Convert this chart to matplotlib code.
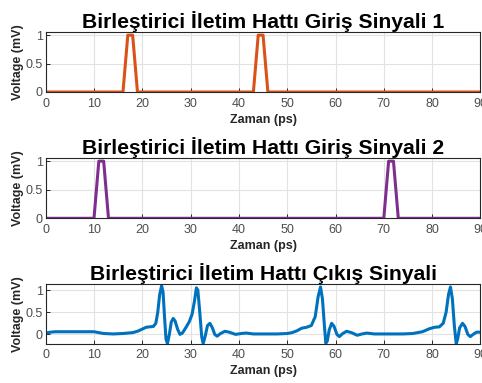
import matplotlib
matplotlib.use("Agg")
import matplotlib.pyplot as plt

plt.rcParams['font.family'] = ['Liberation Sans', 'DejaVu Sans']

# ---- data ----
in1_t = [0, 16, 17, 18, 19, 43, 44, 45, 46, 90]
in1_v = [0, 0, 1, 1, 0, 0, 1, 1, 0, 0]

in2_t = [0, 10, 11, 12, 13, 70, 71, 72, 73, 90]
in2_v = [0, 0, 1, 1, 0, 0, 1, 1, 0, 0]

out_t = [0, 1, 2, 5, 8, 10, 11, 12, 14, 16, 18, 19, 20, 20.8, 21.5, 22.3, 22.8, 23.2, 23.6,
         24.0, 24.3, 24.6, 24.9, 25.2, 25.6, 26.0, 26.4, 26.8, 27.3, 27.8, 28.3, 29.0, 29.7,
         30.3, 30.8, 31.2, 31.5, 31.9, 32.3, 32.6, 33.0, 33.5, 34.0, 34.5, 35.0, 35.5, 36.2,
         37.1, 38.0, 39.3, 40.5, 41.5, 43, 45, 48, 50, 51, 52, 53, 54, 55, 55.8, 56.4, 56.9,
         57.3, 57.7, 58.0, 58.3, 58.7, 59.2, 59.7, 60.3, 60.8, 61.5, 62.3, 63.3, 64.5, 65.5,
         66.5, 68, 70, 74, 76, 78, 79.5, 80.5, 81.5, 82.3, 82.9, 83.4, 83.8, 84.2, 84.6, 85.0,
         85.3, 85.7, 86.3, 86.8, 87.4, 87.9, 88.5, 89.2, 90]
out_v = [0.03, 0.05, 0.06, 0.06, 0.06, 0.06, 0.04, 0.02, 0.01, 0.02, 0.04, 0.07, 0.12, 0.16,
         0.17, 0.18, 0.25, 0.5, 0.9, 1.1, 0.95, 0.4, -0.1, -0.21, 0.0, 0.28, 0.36, 0.3, 0.12,
         0.0, 0.03, 0.15, 0.28, 0.45, 0.75, 1.05, 1.0, 0.5, -0.05, -0.21, -0.05, 0.2, 0.25,
         0.15, 0.0, -0.04, 0.02, 0.07, 0.05, 0.0, 0.02, 0.03, 0.01, 0.01, 0.01, 0.02, 0.04,
         0.08, 0.14, 0.16, 0.2, 0.4, 0.85, 1.07, 0.8, 0.2, -0.2, -0.15, 0.1, 0.25, 0.18, 0.0,
         -0.05, 0.02, 0.07, 0.04, -0.02, 0.01, 0.03, 0.01, 0.01, 0.01, 0.02, 0.06, 0.13, 0.16,
         0.17, 0.25, 0.5, 0.9, 1.07, 0.8, 0.2, -0.21, -0.1, 0.15, 0.25, 0.18, 0.0, -0.05, 0.0,
         0.05, 0.05]

titles = ["Birleştirici İletim Hattı Giriş Sinyali 1",
          "Birleştirici İletim Hattı Giriş Sinyali 2",
          "Birleştirici İletim Hattı Çıkış Sinyali"]
xticks = [0, 10, 20, 30, 40, 50, 60, 70, 80, 90]
yticks = [0, 0.5, 1]
yticklabels = ["0", "0.5", "1"]

fig = plt.figure(figsize=(4.82, 3.83), dpi=100)
W, H = 482, 383

def add_ax(top_px, bot_px):
    left, right = 45.7, 480.4
    return fig.add_axes([left / W, 1 - bot_px / H, (right - left) / W, (bot_px - top_px) / H])

axes = [add_ax(32.3, 92.0), add_ax(158.3, 218.3), add_ax(284.3, 343.7)]
series = [(in1_t, in1_v, '#D95319', (0, 1.05)),
          (in2_t, in2_v, '#7E2F8E', (0, 1.05)),
          (out_t, out_v, '#0072BD', (-0.21, 1.13))]

for ax, (t, v, c, yl), title in zip(axes, series, titles):
    ax.plot(t, v, color=c, lw=2.2, solid_joinstyle='round')
    ax.set_xlim(0, 90)
    ax.set_ylim(*yl)
    ax.set_xticks(xticks)
    ax.set_yticks(yticks)
    ax.set_yticklabels(yticklabels)
    ax.grid(True, color='#e2e2e2', lw=0.8)
    ax.set_axisbelow(True)
    ax.tick_params(direction='in', length=3, width=0.7, colors='#262626',
                   labelcolor='#4d4d4d', labelsize=9, pad=4)
    ax.tick_params(axis='y', pad=2)
    for s in ax.spines.values():
        s.set_color('#262626')
        s.set_linewidth(0.8)
    ax.set_title(title, fontsize=15.2, fontweight='bold', pad=3, color='#000000')
    ax.set_xlabel("Zaman (ps)", fontsize=9, fontweight='bold', color='#262626', labelpad=3)
    ax.set_ylabel("Voltage (mV)", fontsize=9, fontweight='bold', color='#262626', labelpad=1)

fig.savefig("out.png", dpi=100)
